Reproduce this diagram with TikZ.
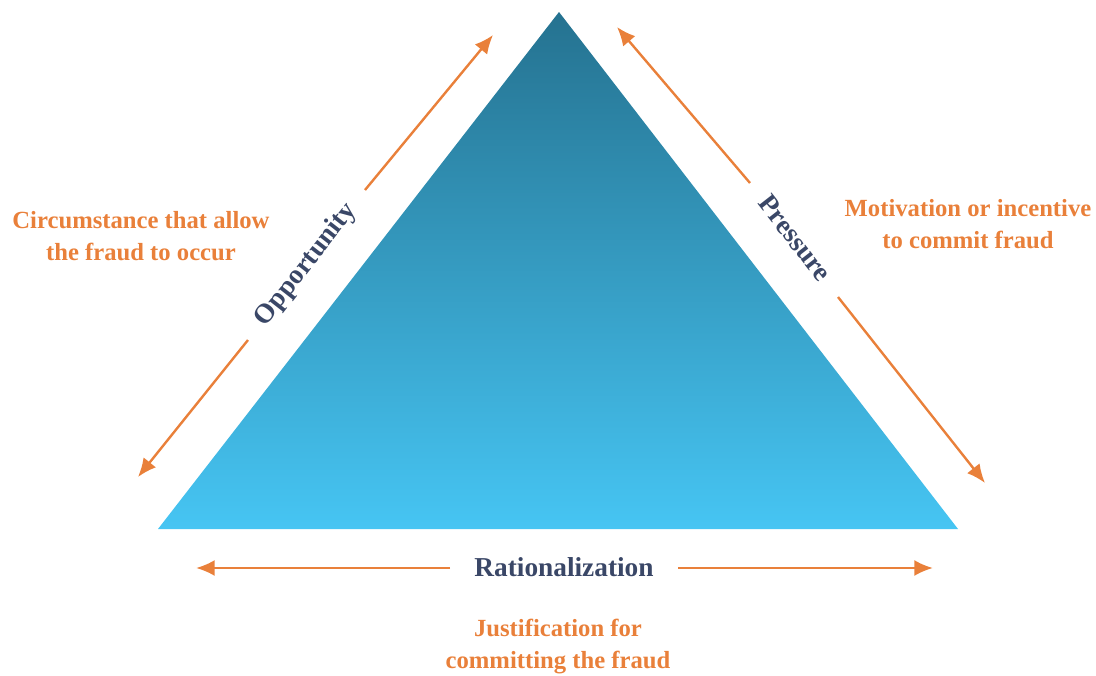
\documentclass[tikz,border=0pt]{standalone}
\usepackage{fontspec}
\setmainfont{Liberation Serif}
\usetikzlibrary{arrows.meta}
\definecolor{accent}{HTML}{E9803A}
\definecolor{navy}{HTML}{3A4767}
\definecolor{topblue}{HTML}{257290}
\definecolor{lowblue}{HTML}{46C5F3}
\begin{document}
\begin{tikzpicture}[x=0.75pt,y=-0.75pt,
  link/.style={draw=accent,line width=1.8pt,-{Latex[length=14pt,width=12pt]}},
  note/.style={text=accent,font=\bfseries\fontsize{18.5}{24}\selectfont,align=center},
  side/.style={text=navy,font=\bfseries\fontsize{20.5}{24}\selectfont}]
\useasboundingbox (0,0) rectangle (1096,675);
% triangle with vertical gradient
\coordinate (apex) at (559,12);
\coordinate (bl) at (158,529);
\coordinate (br) at (958,529);
\shade[top color=topblue,bottom color=lowblue] (apex) -- (br) -- (bl) -- cycle;

% arrow end points
\coordinate (o1) at (365,190); \coordinate (o2) at (493,35);
\coordinate (o3) at (248,340); \coordinate (o4) at (138,477);
\coordinate (p1) at (750,183); \coordinate (p2) at (617,27);
\coordinate (p3) at (838,297); \coordinate (p4) at (985,483);
\coordinate (r1) at (450,568); \coordinate (r2) at (196,568);
\coordinate (r3) at (678,568); \coordinate (r4) at (933,568);
\draw[link] (o1) -- (o2);
\draw[link] (o3) -- (o4);
\draw[link] (p1) -- (p2);
\draw[link] (p3) -- (p4);
\draw[link] (r1) -- (r2);
\draw[link] (r3) -- (r4);

% side labels
\node[side,rotate=52] (opp) at (306,265) {Opportunity};
\node[side,rotate=-52] (pre) at (795,238) {Pressure};
\node[side] (rat) at (564,567) {Rationalization};

% descriptions
\node[note] (dopp) at (141,236) {Circumstance that allow\\the fraud to occur};
\node[note] (dpre) at (968,224) {Motivation or incentive\\to commit fraud};
\node[note] (drat) at (558,647) {Justification for\\committing the fraud};
\end{tikzpicture}
\end{document}
